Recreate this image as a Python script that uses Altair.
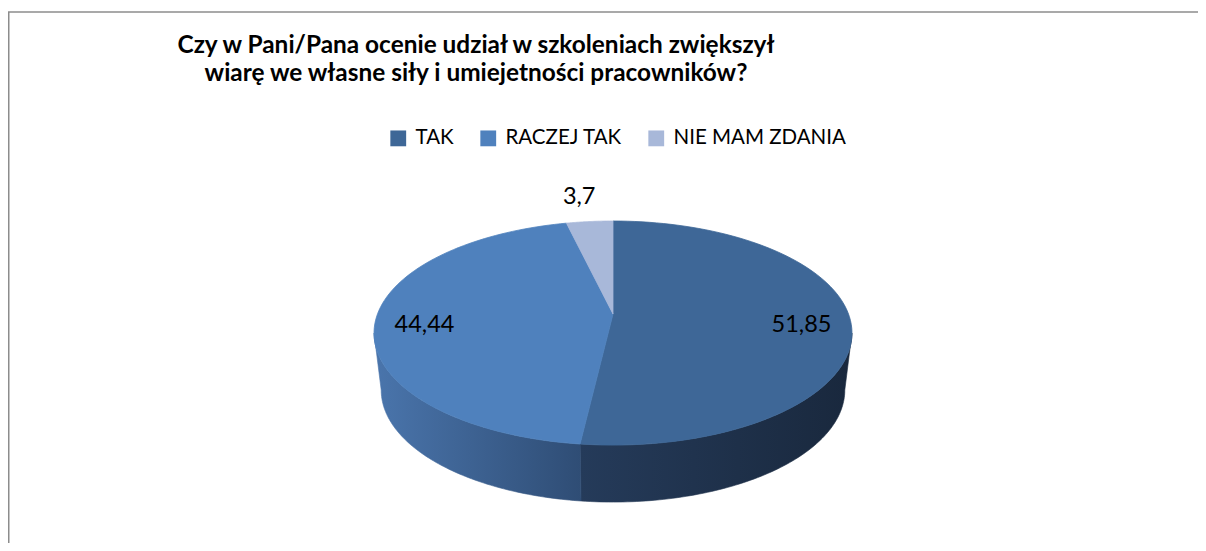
import math
import altair as alt
import pandas as pd

# ---- data ----
kategorie = ["TAK", "RACZEJ TAK", "NIE MAM ZDANIA"]
wartosci = [51.85, 44.44, 3.7]
etykiety = ["51,85", "44,44", "3,7"]
tytul = [
    "Czy w Pani/Pana ocenie udział w szkoleniach zwiększył",
    "wiarę we własne siły i umiejetności pracowników?",
]

# ---- style ----
kolory = ["#3E6797", "#4F81BD", "#A8B8D9"]
boki = {
    "TAK": ("#253B5A", "#19283D"),
    "RACZEJ TAK": ("#4A75AC", "#2F4D75"),
}
FONT = "Lato"

W, H = 1190, 535
X0, Y0 = 8, 8            # page margin -> data units equal page pixels
CX, CY = 613, 314        # apex of the tilted pie
SX, SY = 235.5, 108.8    # projection scales
P = 0.17                 # perspective strength
SXB = 0.97 * SX          # bottom rim slightly narrower
DEPTH = 57
RX, RY, CYE = 239, 112, 333   # ellipse used for label placement
N = 90
TH_R = math.acos(-P)
TH_L = 2 * math.pi - math.acos(-P)

df = pd.DataFrame({
    "kategoria": kategorie,
    "wartosc": wartosci,
    "etykieta": etykiety,
    "kolejnosc": list(range(len(kategorie))),
})

xs = alt.Scale(domain=[X0, X0 + W], nice=False, zero=False)
ys = alt.Scale(domain=[Y0, Y0 + H], nice=False, zero=False, reverse=True)

base = (
    alt.Chart(df)
    .transform_joinaggregate(suma="sum(wartosc)")
    .transform_window(
        narast="sum(wartosc)",
        sort=[alt.SortField("kolejnosc", order="ascending")],
        frame=[None, 0],
    )
    .transform_calculate(
        t0="2*PI*(datum.narast - datum.wartosc)/datum.suma",
        t1="2*PI*datum.narast/datum.suma",
    )
)

def enc_xy(ch):
    return ch.encode(
        x=alt.X("px:Q", scale=xs, axis=None),
        y=alt.Y("py:Q", scale=ys, axis=None),
        order=alt.Order("k:Q"),
    )

# ---- side walls ----
sides = []
for kat in kategorie:
    if kat not in boki:
        continue
    c1, c2 = boki[kat]
    grad = {
        "gradient": "linear",
        "x1": 0, "x2": 1, "y1": 0, "y2": 0,
        "stops": [{"offset": 0, "color": c1}, {"offset": 1, "color": c2}],
    }
    s = (
        base.transform_filter(alt.datum.kategoria == kat)
        .transform_calculate(a=f"max(datum.t0, {TH_R})", b=f"min(datum.t1, {TH_L})")
        .transform_filter("datum.a < datum.b")
        .transform_calculate(k=f"sequence(0, {2 * N + 2})")
        .transform_flatten(["k"])
        .transform_calculate(
            gora=f"datum.k <= {N}",
            th=f"datum.k <= {N} ? datum.a + (datum.b - datum.a)*datum.k/{N} : datum.b - (datum.b - datum.a)*(datum.k - {N + 1})/{N}",
        )
        .transform_calculate(u="sin(datum.th)", v="-cos(datum.th)")
        .transform_calculate(
            px=f"{CX} + (datum.gora ? {SX} : {SXB})*datum.u/(1 - {P}*datum.v)",
            py=f"{CY} + {SY}*datum.v/(1 - {P}*datum.v) + (datum.gora ? 0 : {DEPTH})",
        )
        .mark_line(interpolate="linear-closed", fill=grad, stroke=grad, strokeWidth=0.6)
    )
    sides.append(enc_xy(s))

# ---- top face ----
kol_scale = alt.Scale(domain=kategorie, range=kolory)
top = (
    base.transform_calculate(k=f"sequence(-1, {N + 1})")
    .transform_flatten(["k"])
    .transform_calculate(
        th=f"datum.t0 + (datum.t1 - datum.t0)*max(datum.k, 0)/{N}",
        r="datum.k < 0 ? 0 : 1",
    )
    .transform_calculate(u="datum.r*sin(datum.th)", v="-datum.r*cos(datum.th)")
    .transform_calculate(
        px=f"{CX} + {SX}*datum.u/(1 - {P}*datum.v)",
        py=f"{CY} + {SY}*datum.v/(1 - {P}*datum.v)",
    )
    .mark_line(interpolate="linear-closed", strokeWidth=0.8)
)
top = enc_xy(top).encode(
    fill=alt.Fill(
        "kategoria:N",
        scale=kol_scale,
        sort=kategorie,
        legend=alt.Legend(
            title=None,
            orient="none",
            direction="horizontal",
            legendX=380,
            legendY=120,
            symbolType="square",
            symbolSize=250,
            symbolStrokeWidth=0,
            symbolOpacity=1,
            labelFont=FONT,
            labelFontSize=20.5,
            labelColor="#000000",
            labelOffset=7,
            labelLimit=0,
            columnPadding=24,
            padding=0,
        ),
    ),
    stroke=alt.Stroke("kategoria:N", scale=kol_scale, legend=None),
    detail="kategoria:N",
)

# ---- data labels ----
labels = (
    base.transform_calculate(
        sr="(datum.t0 + datum.t1)/2",
        kk="datum.wartosc < 10 ? 1.22 : 0.79",
        dd="datum.wartosc < 10 ? 0 : -13",
    )
    .transform_calculate(
        lx=f"{CX} + {RX}*datum.kk*sin(datum.sr)",
        ly=f"{CYE} - {RY}*datum.kk*cos(datum.sr) + datum.dd",
    )
    .mark_text(font=FONT, fontSize=23.5, color="#000000", align="center", baseline="middle")
    .encode(
        x=alt.X("lx:Q", scale=xs, axis=None),
        y=alt.Y("ly:Q", scale=ys, axis=None),
        text="etykieta:N",
    )
)

one = pd.DataFrame({"n": [0]})

# ---- frame ----
ramka_gora = alt.Chart(one).mark_rule(color="#8C8C8C", strokeWidth=1.5).encode(
    x=alt.value(0), x2=alt.value(W), y=alt.value(12 - Y0)
)
ramka_lewa = alt.Chart(one).mark_rule(color="#8C8C8C", strokeWidth=1.5).encode(
    x=alt.value(0.75), y=alt.value(12 - Y0), y2=alt.value(H)
)

# ---- title ----
tytul_txt = alt.Chart(one).mark_text(
    text=tytul,
    font=FONT,
    fontSize=24.4,
    fontWeight="bold",
    lineHeight=28,
    align="center",
    baseline="alphabetic",
    color="#000000",
).encode(x=alt.value(476 - X0), y=alt.value(53 - Y0))

chart = (
    alt.layer(ramka_gora, ramka_lewa, *sides, top, labels, tytul_txt)
    .properties(width=W, height=H, padding=0, autosize=alt.AutoSizeParams(type="none"))
    .configure_view(stroke=None)
)

chart.save("out.html", embed_options={"renderer": "svg", "actions": False})
